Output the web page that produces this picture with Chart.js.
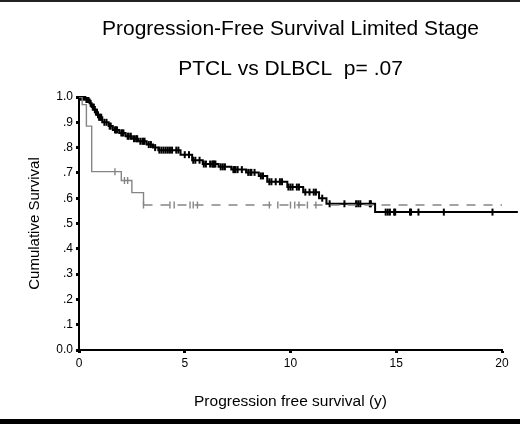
<!DOCTYPE html>
<html lang="en">
  <head>
    <meta charset="UTF-8" />
    <title>Progression-Free Survival Limited Stage</title>
    <script src="https://cdn.jsdelivr.net/npm/chart.js"></script>
    <style>
      body {
        margin: 0;
        background: #fff;
        overflow: hidden;
      }
    </style>
  </head>
  <body>
    <canvas id="kmChart" width="520" height="424"></canvas>

    <script>
      // DLBCL (black) step curve: time (years) where survival drops, and new value
      const dlbclTime = [0, 0.3, 0.5, 0.6, 0.75, 0.9, 1.1, 1.4, 1.6, 1.9, 2.2, 2.5, 2.8, 3.2, 3.5, 3.75, 4.8, 5.35, 5.85, 6.6, 7.2, 7.9, 8.5, 8.9, 9.85, 10.6, 11.35, 11.7, 14.0, 20.75];
      const dlbclSurv = [1.0, 0.99, 0.975, 0.96, 0.94, 0.92, 0.9, 0.885, 0.87, 0.858, 0.845, 0.835, 0.825, 0.812, 0.8, 0.79, 0.772, 0.75, 0.735, 0.724, 0.713, 0.702, 0.688, 0.665, 0.644, 0.624, 0.6, 0.578, 0.545, 0.545];
      // DLBCL censored observations (years)
      const dlbclCensor = [0.05, 0.1, 0.15, 0.2, 0.25, 0.35, 0.4, 0.45, 0.55, 0.65, 0.7, 0.8, 0.85, 0.95, 1.0, 1.05, 1.2, 1.3, 1.45, 1.5, 1.7, 1.75, 1.8, 2.0, 2.05, 2.1, 2.3, 2.35, 2.45, 2.6, 2.7, 2.75, 2.9, 3.0, 3.05, 3.1, 3.3, 3.4, 3.6, 3.8, 3.9, 4.0, 4.1, 4.2, 4.3, 4.4, 4.6, 4.7, 5.0, 5.2, 5.4, 5.5, 5.7, 5.9, 6.0, 6.2, 6.3, 6.35, 6.4, 6.45, 6.7, 6.8, 6.9, 7.3, 7.35, 7.4, 7.5, 7.7, 8.0, 8.1, 8.15, 8.3, 8.6, 8.7, 9.0, 9.1, 9.3, 9.5, 9.6, 9.9, 10.0, 10.1, 10.3, 10.4, 10.7, 10.9, 11.1, 11.2, 11.5, 11.85, 12.55, 13.1, 13.2, 13.3, 13.75, 13.8, 14.5, 14.6, 14.7, 14.9, 14.95, 15.65, 15.7, 16.05, 17.25, 19.55];

      // PTCL (gray) step curve
      const ptclTime = [0, 0.15, 0.35, 0.6, 2.0, 2.5, 3.05, 20];
      const ptclSurv = [1.0, 0.97, 0.885, 0.705, 0.67, 0.622, 0.573, 0.573];
      const ptclCensor = [1.7, 2.15, 2.3, 3.05, 4.3, 4.5, 5.25, 5.4, 5.6, 9.0, 9.4, 10.0, 10.2, 10.4, 10.8, 11.2];

      const yTickLabels = ["0.0", ".1", ".2", ".3", ".4", ".5", ".6", ".7", ".8", ".9", "1.0"];
      const xTicks = [0, 5, 10, 15, 20];

      const FONT = 'Arial, "Liberation Sans", sans-serif';

      // survival value at time t for a step curve
      function survAt(times, surv, t) {
        let s = surv[0];
        for (let i = 0; i < times.length; i++) {
          if (times[i] <= t) s = surv[i];
        }
        return s;
      }

      function toPoints(xs, ys) {
        return xs.map((x, i) => ({ x: x, y: ys[i] }));
      }

      function censorPoints(censor, times, surv) {
        return censor.map((t) => ({ x: t, y: survAt(times, surv, t) }));
      }

      // white page, thin rule on top and black band at the bottom
      const framePlugin = {
        id: "frame",
        beforeDraw(chart) {
          const ctx = chart.ctx;
          ctx.save();
          ctx.fillStyle = "#fff";
          ctx.fillRect(0, 0, chart.width, chart.height);
          ctx.fillStyle = "#222";
          ctx.fillRect(0, 0, chart.width, 2);
          ctx.fillStyle = "#000";
          ctx.fillRect(0, 419, chart.width, 5);
          ctx.restore();
        },
      };

      const ctx = document.getElementById("kmChart").getContext("2d");

      new Chart(ctx, {
        type: "line",
        data: {
          datasets: [
            {
              label: "PTCL",
              data: toPoints(ptclTime, ptclSurv),
              borderColor: "#858585",
              borderWidth: 1.4,
              stepped: true,
              pointRadius: 0,
              segment: {
                borderDash: (c) => (c.p0.parsed.x >= 3 ? [9, 8] : undefined),
              },
            },
            {
              label: "PTCL censored",
              type: "scatter",
              data: censorPoints(ptclCensor, ptclTime, ptclSurv),
              showLine: false,
              pointStyle: "line",
              rotation: 90,
              pointRadius: 3.5,
              borderColor: "#858585",
              borderWidth: 1.4,
            },
            {
              label: "DLBCL",
              data: toPoints(dlbclTime, dlbclSurv),
              borderColor: "#000",
              borderWidth: 2,
              stepped: true,
              pointRadius: 0,
              clip: { left: 2, top: 4, right: 20, bottom: 2 },
            },
            {
              label: "DLBCL censored",
              type: "scatter",
              data: censorPoints(dlbclCensor, dlbclTime, dlbclSurv),
              showLine: false,
              pointStyle: "line",
              rotation: 90,
              pointRadius: 3.5,
              borderColor: "#000",
              borderWidth: 2,
            },
          ],
        },
        options: {
          responsive: false,
          animation: false,
          layout: { padding: { left: 0, right: 18, top: 0, bottom: 0 } },
          plugins: {
            legend: { display: false },
            tooltip: { enabled: false },
            title: {
              display: true,
              fullSize: false,
              text: ["Progression-Free Survival Limited Stage", "PTCL vs DLBCL  p= .07"],
              color: "#000",
              font: { family: FONT, size: 21, weight: "normal", lineHeight: 40 / 21 },
              padding: { top: 9.5, bottom: 7.5 },
            },
          },
          scales: {
            x: {
              type: "linear",
              min: 0,
              max: 20,
              afterFit: (scale) => {
                scale.height = 74;
              },
              afterBuildTicks: (scale) => {
                scale.ticks = xTicks.map((v) => ({ value: v }));
              },
              ticks: {
                color: "#000",
                font: { family: FONT, size: 12 },
                padding: 3,
                maxRotation: 0,
                autoSkip: false,
              },
              grid: {
                drawOnChartArea: false,
                drawTicks: true,
                tickLength: 3,
                tickWidth: 3,
                color: "#000",
              },
              border: { display: true, color: "#000", width: 2 },
              title: {
                display: true,
                text: "Progression free survival (y)",
                color: "#000",
                font: { family: FONT, size: 15.5 },
                padding: { top: 0, bottom: 12.7 },
              },
            },
            y: {
              min: 0,
              max: 1,
              afterFit: (scale) => {
                scale.width = 79;
              },
              ticks: {
                stepSize: 0.1,
                color: "#000",
                font: { family: FONT, size: 12 },
                padding: 3,
                autoSkip: false,
                callback: (value, index) => yTickLabels[index],
              },
              grid: {
                drawOnChartArea: false,
                drawTicks: true,
                tickLength: 3,
                tickWidth: 3,
                color: "#000",
              },
              border: { display: true, color: "#000", width: 2 },
              title: {
                display: true,
                text: "Cumulative Survival",
                color: "#000",
                font: { family: FONT, size: 15 },
                padding: { top: 26, bottom: 0 },
              },
            },
          },
        },
        plugins: [framePlugin],
      });
    </script>
  </body>
</html>
